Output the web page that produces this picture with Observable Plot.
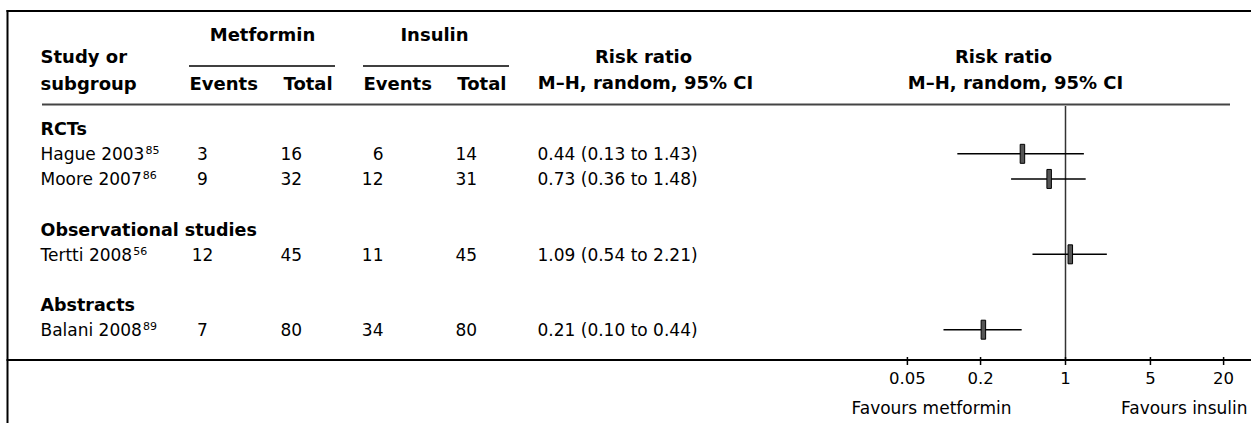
<!DOCTYPE html>
<html><head><meta charset="utf-8">
<script src="https://cdn.jsdelivr.net/npm/d3@7"></script>
<script src="https://cdn.jsdelivr.net/npm/@observablehq/plot@0.6"></script>
<style>
html,body{margin:0;padding:0;background:#fff;}
#chart{width:1251px;height:423px;overflow:hidden;}
</style></head><body><div id="chart"></div>
<script>
// ---- data ----
const groups = ["RCTs", "Observational studies", "Abstracts"];
const studies = ["Hague 2003", "Moore 2007", "Tertti 2008", "Balani 2008"];
const refs = ["85", "86", "56", "89"];
const studyGroup = [0, 0, 1, 2];
const metEvents = [3, 9, 12, 7];
const metTotal = [16, 32, 45, 80];
const insEvents = [6, 12, 11, 34];
const insTotal = [14, 31, 45, 80];
const rr = [0.44, 0.73, 1.09, 0.21];
const ciLow = [0.13, 0.36, 0.54, 0.10];
const ciHigh = [1.43, 1.48, 2.21, 0.44];
const xTicks = [0.05, 0.2, 1, 5, 20];
const favours = ["Favours metformin", "Favours insulin"];

// ---- layout ----
const W = 1251, H = 423;
const FONT = "'DejaVu Sans', 'Open Sans', sans-serif";
const SUP = "⁰¹²³⁴⁵⁶⁷⁸⁹";
const sup = s => [...s].map(c => SUP[+c]).join("");

const groupRows = [], studyRows = [];
let r = 0;
groups.forEach((g, gi) => {
  groupRows.push({row: r++, label: g});
  studies.forEach((s, i) => {
    if (studyGroup[i] !== gi) return;
    studyRows.push({
      row: r++, label: s + sup(refs[i]),
      metE: metEvents[i], metT: metTotal[i], insE: insEvents[i], insT: insTotal[i],
      rr: rr[i], lo: ciLow[i], hi: ciHigh[i],
      est: `${rr[i].toFixed(2)} (${ciLow[i].toFixed(2)} to ${ciHigh[i].toFixed(2)})`
    });
  });
  r++;
});

const label = (t, x, y, o = {}) => Plot.text([t], {
  text: d => d, frameAnchor: "top-left", dx: x, dy: y, lineAnchor: "bottom",
  textAnchor: "start", fill: "#000", fontSize: 17, ...o
});
const col = (field, x, anchor, o = {}) => Plot.text(studyRows, {
  y: "row", text: field, frameAnchor: "left", dx: x, textAnchor: anchor,
  fill: "#000", fontSize: 17, ...o
});

function rules() {
  const g = d3.create("svg:g").attr("fill", "none");
  const L = (x1, y1, x2, y2, w, c) => g.append("line")
    .attr("x1", x1).attr("y1", y1).attr("x2", x2).attr("y2", y2)
    .attr("stroke", c || "#000").attr("stroke-width", w);
  L(6.5, 11, W, 11, 2);
  L(7.5, 10, 7.5, H, 2);
  L(189, 66, 335, 66, 1.5);
  L(363, 66, 509, 66, 1.5);
  L(42, 104.5, 1230, 104.5, 2, "#444");
  L(6.5, 360, W, 360, 2);
  return g.node();
}

const box = {draw(ctx) { ctx.rect(-2, -9.5, 4.5, 19); }};
const B = {fontWeight: "bold", fontSize: 18};

const chart = Plot.plot({
  width: W, height: H,
  marginTop: 0, marginLeft: 0, marginRight: 0, marginBottom: 63,
  x: {type: "log", domain: [0.05, 20], range: [906.9, 1223.1], axis: null},
  y: {domain: [0, 8], range: [129.2, 330.2], axis: null},
  style: {fontFamily: FONT, fontSize: "17px", color: "#000", background: "#fff", overflow: "visible"},
  marks: [
    rules,
    label("Metformin", 262, 40, {...B, textAnchor: "middle"}),
    label("Insulin", 434, 40, {...B, textAnchor: "middle"}),
    label("Study or", 40, 62, B),
    label("subgroup", 40, 89, B),
    label("Events", 189, 89, B),
    label("Total", 283, 89, B),
    label("Events", 363, 89, B),
    label("Total", 506, 89, {...B, textAnchor: "end"}),
    label("Risk ratio", 643, 62, {...B, textAnchor: "middle"}),
    label("M–H, random, 95% CI", 645, 88, {...B, textAnchor: "middle"}),
    label("Risk ratio", 1003, 62, {...B, textAnchor: "middle"}),
    label("M–H, random, 95% CI", 1015, 88, {...B, textAnchor: "middle"}),
    Plot.text(groupRows, {y: "row", text: "label", frameAnchor: "left", dx: 40, textAnchor: "start",
      fill: "#000", fontSize: 17.5, fontWeight: "bold"}),
    col("label", 40, "start"),
    col("metE", 202, "middle"),
    col("metT", 280, "start"),
    col("insE", 383, "end"),
    col("insT", 455, "start"),
    col("est", 537, "start"),
    Plot.ruleX([1], {insetTop: 106, stroke: "#333", strokeWidth: 1.5}),
    Plot.ruleX(xTicks, {insetTop: 357, insetBottom: -5, stroke: "#000", strokeWidth: 1.5}),
    Plot.text(xTicks, {x: d => d, text: d => String(d), frameAnchor: "bottom", dy: 23,
      lineAnchor: "bottom", fill: "#000", fontSize: 16.5}),
    Plot.ruleY(studyRows, {y: "row", x1: "lo", x2: "hi", stroke: "#000", strokeWidth: 1.5, dy: -1}),
    Plot.dot(studyRows, {x: "rr", y: "row", symbol: box, r: 5, fill: "#555", stroke: "#000", strokeWidth: 1, dy: -1}),
    label(favours[0], 851, 413),
    label(favours[1], 1247, 413, {textAnchor: "end"})
  ]
});

// render trailing superscript reference numbers as real superscripts
chart.querySelectorAll("text").forEach(t => {
  const s = t.textContent;
  const m = s.match(/[⁰¹²³⁴⁵⁶⁷⁸⁹]+$/);
  if (!m) return;
  const digits = [...m[0]].map(c => SUP.indexOf(c)).join("");
  t.textContent = s.slice(0, m.index);
  const ts = document.createElementNS("http://www.w3.org/2000/svg", "tspan");
  ts.setAttribute("font-size", 11);
  ts.setAttribute("dy", -6);
  ts.setAttribute("dx", 1);
  ts.textContent = digits;
  t.appendChild(ts);
});
document.getElementById("chart").append(chart);
</script></body></html>
